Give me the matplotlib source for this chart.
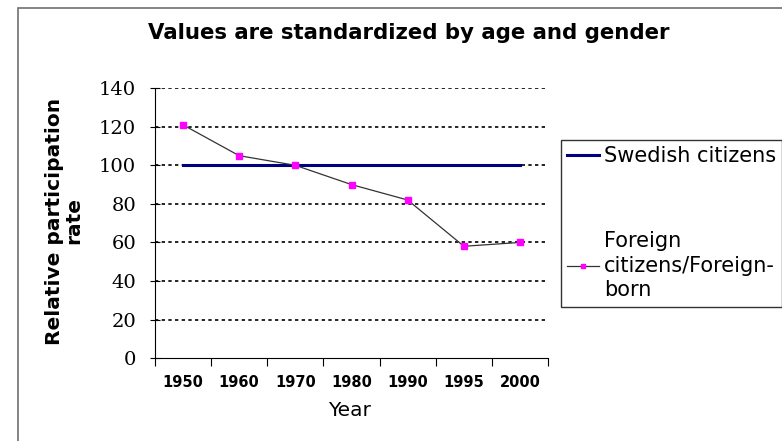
import matplotlib.pyplot as plt
from matplotlib.patches import Rectangle

years = ['1950', '1960', '1970', '1980', '1990', '1995', '2000']
swedish = [100, 100, 100, 100, 100, 100, 100]
foreign = [121, 105, 100, 90, 82, 58, 60]
y_ticks = [0, 20, 40, 60, 80, 100, 120, 140]

fig = plt.figure(figsize=(7.82, 4.41), dpi=100)
# grey border around the whole chart area
fig.patches.append(Rectangle((0.023, -0.02), 1.0, 1.002, transform=fig.transFigure,
                             fill=False, edgecolor='#707070', linewidth=1.2))

ax = fig.add_axes([0.198, 0.188, 0.503, 0.612])
x = range(len(years))

ax.plot(x, swedish, color='#000080', linewidth=2.2, label='Swedish citizens')
ax.plot(x, foreign, color='#333333', linewidth=0.9, marker='s', markersize=5,
        markerfacecolor='#ff00ff', markeredgecolor='#ff00ff',
        label='Foreign\ncitizens/Foreign-\nborn')

ax.set_xlim(-0.5, len(years) - 0.5)
ax.set_ylim(0, 140)
ax.set_yticks(y_ticks)
ax.set_yticklabels([str(v) for v in y_ticks], fontfamily='DejaVu Serif', fontsize=14)
ax.set_xticks([i - 0.5 for i in range(len(years) + 1)])
ax.set_xticklabels([])
ax.set_xticks(list(x), minor=True)
ax.set_xticklabels(years, minor=True, fontfamily='DejaVu Sans', fontsize=10.5,
                   fontweight='bold')
ax.tick_params(axis='x', which='minor', length=0, pad=12)
ax.tick_params(axis='x', which='major', length=6, direction='out')
ax.tick_params(axis='y', length=7, direction='inout', pad=10)

for v in y_ticks[1:]:
    ax.axhline(v, color='black', linestyle=(0, (2, 2)), linewidth=1.2, zorder=0)

ax.spines['top'].set_visible(False)
ax.spines['right'].set_visible(False)

fig.text(350 / 782, 1 - 411 / 441, 'Year', ha='center', va='center', fontsize=14.5)
fig.text(64 / 782, 0.499, 'Relative participation\nrate', rotation=90, ha='center',
         va='center', multialignment='center', fontsize=14.5, fontweight='bold',
         linespacing=1.0)
fig.text(0.523, 1 - 33 / 441, 'Values are standardized by age and gender', ha='center',
         va='center', fontsize=15.3, fontweight='bold')

leg = fig.legend(loc='upper left', bbox_to_anchor=(561 / 782, 1 - 140 / 441), fontsize=15,
                 frameon=True, fancybox=False, labelspacing=3.1, handlelength=1.5,
                 handletextpad=0.25, borderpad=0.3, borderaxespad=0, markerscale=0.7)
leg.get_frame().set_edgecolor('black')
leg.get_frame().set_linewidth(1.0)
for t in leg.get_texts():
    t.set_linespacing(1.3)

fig.savefig('out.png', dpi=100)
